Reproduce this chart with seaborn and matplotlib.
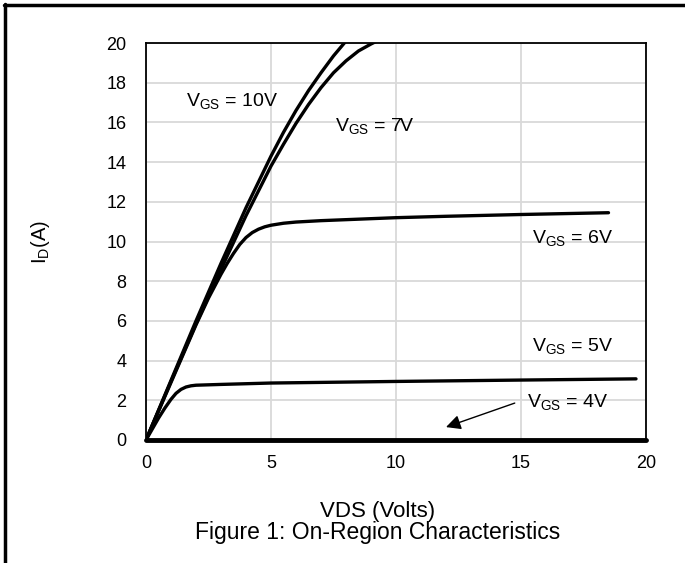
import matplotlib
matplotlib.use("Agg")
import matplotlib.pyplot as plt
import seaborn as sns
import pandas as pd
from matplotlib.lines import Line2D

# ---- data ----
vds_10 = [0, 0.5, 1, 1.5, 2, 2.5, 3, 3.5, 4, 4.5, 5, 5.5, 6, 6.5, 7, 7.5, 8.0]
id_10 = [0, 1.5, 3.0, 4.5, 6.0, 7.45, 8.9, 10.3, 11.7, 13.0, 14.3, 15.5, 16.6, 17.6, 18.5, 19.35, 20.1]

vds_7 = [0, 1, 2, 3, 4, 5, 5.5, 6, 6.5, 7, 7.5, 8, 8.5, 9, 9.4]
id_7 = [0, 2.95, 5.85, 8.6, 11.3, 13.8, 14.9, 15.95, 16.9, 17.75, 18.5, 19.1, 19.6, 19.95, 20.2]

vds_6 = [0, 0.5, 1, 1.5, 2, 2.5, 3, 3.25, 3.5, 3.75, 4, 4.25, 4.5, 4.75, 5, 5.5, 6, 7, 8, 10, 12, 15, 18.5]
id_6 = [0, 1.45, 2.9, 4.35, 5.8, 7.15, 8.35, 8.9, 9.4, 9.85, 10.2, 10.45, 10.62, 10.74, 10.82,
        10.92, 10.98, 11.05, 11.1, 11.2, 11.27, 11.36, 11.45]

vds_5 = [0, 0.25, 0.5, 0.75, 1.0, 1.2, 1.4, 1.6, 1.8, 2, 2.5, 3, 5, 10, 15, 19.6]
id_5 = [0, 0.55, 1.1, 1.6, 2.05, 2.35, 2.55, 2.67, 2.73, 2.76, 2.78, 2.8, 2.87, 2.95, 3.02, 3.08]

vds_4 = [0, 20]
id_4 = [0, 0]

x_ticks = [0, 5, 10, 15, 20]
y_ticks = [0, 2, 4, 6, 8, 10, 12, 14, 16, 18, 20]

labels = ["V$_{GS}$ = 10V", "V$_{GS}$ = 7V", "V$_{GS}$ = 6V", "V$_{GS}$ = 5V", "V$_{GS}$ = 4V"]
label_pos = [(1.58, 17.1), (7.55, 15.8), (15.45, 10.2), (15.45, 4.75), (15.25, 1.9)]

sns.set_theme(style="white")
plt.rcParams['font.family'] = ['Liberation Sans', 'DejaVu Sans']
plt.rcParams['mathtext.default'] = 'regular'

df = pd.concat([
    pd.DataFrame({"VDS": vds_10, "ID": id_10, "vgs": "10V"}),
    pd.DataFrame({"VDS": vds_7, "ID": id_7, "vgs": "7V"}),
    pd.DataFrame({"VDS": vds_6, "ID": id_6, "vgs": "6V"}),
    pd.DataFrame({"VDS": vds_5, "ID": id_5, "vgs": "5V"}),
], ignore_index=True)
df4 = pd.DataFrame({"VDS": vds_4, "ID": id_4})

fig = plt.figure(figsize=(6.85, 5.63), dpi=100)
ax = fig.add_axes([146 / 685, 123 / 563, 500 / 685, 397 / 563])

ax.grid(True, color="#d9d9d9", linewidth=1.3)
ax.set_axisbelow(True)

sns.lineplot(data=df, x="VDS", y="ID", hue="vgs", palette=["black"] * 4,
             sort=False, estimator=None, legend=False, linewidth=2.4, ax=ax)
sns.lineplot(data=df4, x="VDS", y="ID", color="black", linewidth=3.5,
             sort=False, estimator=None, legend=False, ax=ax, clip_on=False)

ax.set_xlim(0, 20)
ax.set_ylim(0, 20)
ax.set_xticks(x_ticks)
ax.set_yticks(y_ticks)
ax.tick_params(axis="both", length=0, labelsize=13, colors="black")
ax.tick_params(axis="x", pad=11)
ax.tick_params(axis="y", pad=14)
for s in ax.spines.values():
    s.set_color("black")
    s.set_linewidth(1.3)

ax.set_xlabel("VDS (Volts)", fontsize=16, color="black", va="center")
ax.xaxis.set_label_coords(0.464, -0.179)
ax.set_ylabel("I$_D$(A)", fontsize=14.5, color="black")
ax.yaxis.set_label_coords(-0.188, 0.5)

for t, (x, y) in zip(labels, label_pos):
    ax.text(x, y, t, fontsize=14, ha="left", va="center", color="black")

ax.annotate("", xy=(12.0, 0.65), xytext=(14.75, 1.86),
            arrowprops=dict(arrowstyle="-|>", color="black", lw=1.0,
                            mutation_scale=22, shrinkA=0, shrinkB=0))

fig.text(378 / 685, 1 - 532 / 563, "Figure 1: On-Region Characteristics",
         fontsize=16.5, ha="center", va="center", color="black")

# figure frame (top and left edges)
fig.add_artist(Line2D([4 / 685, 1.0], [1 - 5 / 563, 1 - 5 / 563], color="black", lw=2.5,
                      transform=fig.transFigure))
fig.add_artist(Line2D([5 / 685, 5 / 685], [0, 1 - 4 / 563], color="black", lw=2.5,
                      transform=fig.transFigure))

fig.savefig("out.png", dpi=100)
